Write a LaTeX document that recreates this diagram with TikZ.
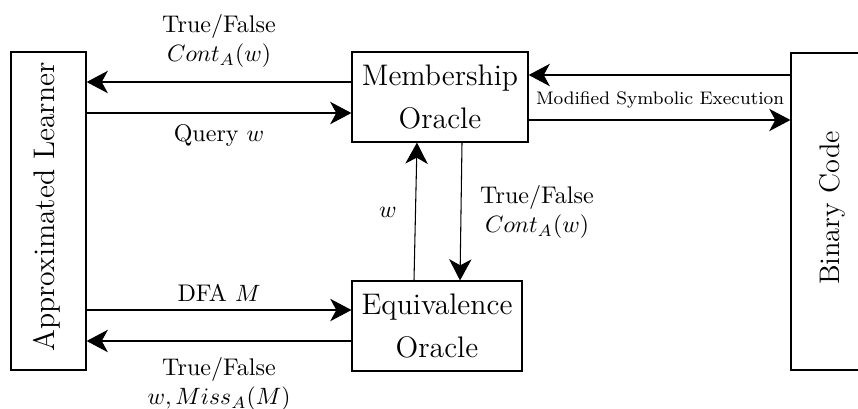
\documentclass[tikz,border=0pt]{standalone}
\usetikzlibrary{arrows.meta,calc}
\begin{document}
\begin{tikzpicture}[x=0.4237pt,y=-0.4237pt,
  box/.style={draw,line width=0.5pt,inner sep=0pt,font=\fontsize{12.6}{15}\selectfont,align=center},
  arr/.style={-{Stealth[length=9pt,width=9.5pt,inset=2.6pt]},line width=0.45pt},
  lbl/.style={align=center,inner sep=0pt,font=\fontsize{10.2}{12.2}\selectfont}]
\useasboundingbox (0,0) rectangle (858,408);
\clip (0,0) rectangle (858,408);
% participants
\node[box,minimum width=31.8pt,minimum height=134.7pt] (learner) at (48.5,211) {};
\node[rotate=90,font=\fontsize{12.6}{15}\selectfont,inner sep=0pt] (learnertext) at (47,207) {Approximated Learner};
\node[box,minimum width=74.6pt,minimum height=38.1pt] (mem) at (440,97) {Membership\\[3pt]Oracle};
\node[box,minimum width=72pt,minimum height=38.1pt] (eq) at (437,326) {Equivalence\\[3.5pt]Oracle};
\node[box,minimum width=33.9pt,minimum height=134.3pt] (bin) at (831,211.5) {};
\node[rotate=90,font=\large,inner sep=0pt] (bintext) at (832,208) {Binary Code};
% learner <-> membership oracle
\draw[arr] (mem.west |- 0,82) -- (learner.east |- 0,82);
\draw[arr] (learner.east |- 0,113) -- (mem.west |- 0,113);
% membership oracle <-> binary code
\draw[arr] (bin.west |- 0,75) -- (mem.east |- 0,75);
\draw[arr] (mem.east |- 0,120) -- (bin.west |- 0,120);
% equivalence oracle <-> membership oracle
\draw[arr] (414,0 |- eq.north) -- (417,0 |- mem.south);
\draw[arr] (462,0 |- mem.south) -- (460,0 |- eq.north);
% learner <-> equivalence oracle
\draw[arr] (learner.east |- 0,310) -- (eq.west |- 0,310);
\draw[arr] (eq.west |- 0,341) -- (learner.east |- 0,341);
% labels
\node[lbl] (l1) at (219,41) {True/False\\$Cont_A(w)$};
\node[lbl] (l2) at (219,135) {Query $w$};
\node[lbl,font=\fontsize{7.7}{9}\selectfont] (l3) at (660,100) {Modified Symbolic Execution};
\node[lbl] (l4) at (388,212) {$w$};
\node[lbl] (l5) at (537,212) {True/False\\$Cont_A(w)$};
\node[lbl] (l6) at (219,293) {DFA $M$};
\node[lbl] (l7) at (219,384) {True/False\\$w, Miss_A(M)$};
\end{tikzpicture}
\end{document}
